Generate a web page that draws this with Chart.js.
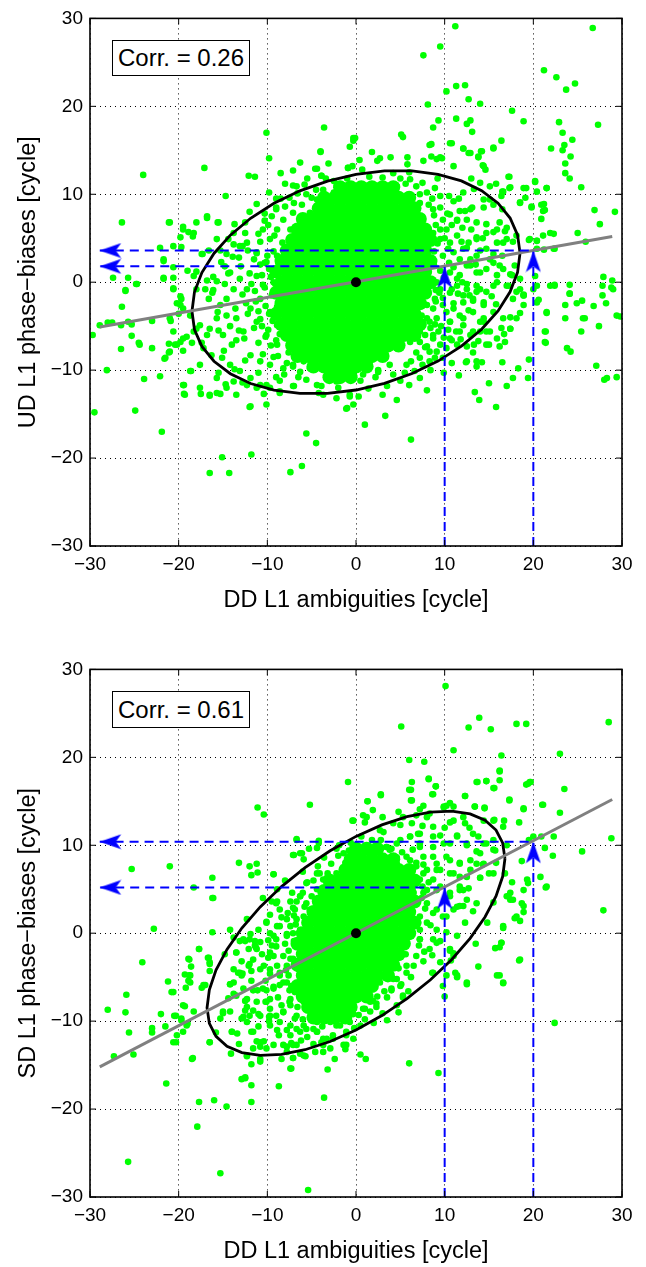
<!DOCTYPE html>
<html>
<head>
<meta charset="utf-8">
<script src="https://cdn.jsdelivr.net/npm/chart.js@4"></script>
<style>
  body{margin:0;background:#fff;width:646px;height:1267px;position:relative;overflow:hidden;font-family:"Liberation Sans",Arial,Helvetica,sans-serif}
  .panel{position:absolute;left:0;width:646px;height:616px}
  .corr{position:absolute;left:112px;width:138px;box-sizing:border-box;border:1px solid #000;background:#fff;
        font-size:24px;text-align:center;color:#000}
</style>
</head>
<body>
<div class="panel" style="top:0"><canvas id="arriba" width="646" height="616"></canvas></div>
<div class="panel" style="top:651px"><canvas id="abajo" width="646" height="616"></canvas></div>
<div class="corr" style="top:40px;height:36px;line-height:34px">Corr. = 0.26</div>
<div class="corr" style="top:691px;height:37px;line-height:35px">Corr. = 0.61</div>

<script>
// =========================
// DATOS
// =========================
const tickValues = [-30, -20, -10, 0, 10, 20, 30];
const xTitle = 'DD L1 ambiguities [cycle]';
const topYTitle = 'UD L1 phase\u2212biases [cycle]';
const botYTitle = 'SD L1 phase\u2212biases [cycle]';

// --- panel superior (UD) ---
const topPts = [
  [-24.0,12.2],[-26.4,6.8],[-17.1,13.0],[-10.1,17.0],[-9.8,14.1],[-12.1,12.1],[-11.4,12.0],[-14.7,9.8],[-3.6,17.6],[-4.0,14.9],
  [-6.3,13.6],[-7.1,12.7],[-8.5,12.4],[-4.4,12.9],[-3.9,12.1],[-7.1,11.0],[-5.8,11.1],[-12.0,8.0],[-10.3,7.8],[-9.0,8.5],
  [-21.1,6.8],[-19.5,6.3],[-18.9,5.7],[-18.4,5.2],[-19.8,5.1],[-18.0,6.8],[-16.8,7.3],[-15.6,6.8],[-19.7,4.0],[-22.1,3.9],
  [-20.6,4.1],[-21.7,2.4],[-20.6,1.7],[-19.0,1.3],[-21.7,0.5],[-20.6,0.5],[-27.4,0.5],[-25.7,0.5],[-24.8,-0.2],[-26.0,-1.0],
  [-17.3,3.2],[-16.6,3.6],[-15.3,3.6],[-18.0,1.2],[-16.8,0.2],[-15.7,0.1],[-14.4,1.0],[-13.2,2.8],[-11.2,3.3],[-10.3,2.2],
  [-14.6,3.2],[-13.8,4.3],[-12.8,4.1],[-13.7,6.6],[-12.5,5.6],[-16.1,-0.9],[-18.0,-0.8],
  [-29.7,-6.0],[-29.5,-14.8],[-28.9,-4.9],[-28.1,-10.0],[-28.0,-4.6],[-27.5,-4.6],[-26.5,-4.9],[-26.5,-7.6],[-26.4,-2.8],[-26.0,-0.9],
  [-25.7,-4.5],[-25.3,-4.8],[-25.3,-6.1],[-24.9,-14.6],[-24.7,-0.2],[-24.5,-6.9],[-24.4,-7.1],[-23.9,-11.0],[-23.0,-4.4],[-23.0,-7.5],
  [-22.1,-10.7],[-21.9,-17.0],[-21.6,-8.7],[-21.1,-8.0],[-21.1,-7.0],[-20.9,-4.4],[-20.6,-0.7],[-20.4,-7.1],[-20.2,-2.4],[-20.0,-3.6],
  [-19.8,-1.6],[-19.8,-6.8],[-19.5,-3.0],[-19.4,-11.7],[-19.4,-12.7],[-19.5,-7.8],[-19.1,-6.2],[-18.6,-10.1],[-18.5,-6.9],[-18.0,-5.3],
  [-17.5,-12.7],[-17.4,-6.9],[-16.8,-6.0],[-16.5,-12.9],[-16.5,-21.7],[-15.7,-12.6],[-15.3,-12.7],[-15.5,-10.3],[-15.1,-19.9],[-14.3,-21.7],
  [-14.7,-11.6],[-13.8,-11.3],[-12.8,-11.4],[-12.0,-14.2],[-11.8,-19.6],[-11.2,-12.0],[-10.4,-12.7],[-10.1,-11.7],[-8.1,-10.5],[-8.6,-12.6],
  [-7.4,-21.6],[-7.0,-11.8],[-7.1,-9.6],[-6.1,-20.9],[-5.6,-17.2],[-4.5,-18.3],[-3.9,-11.8],[-4.6,-8.9],[-6.3,-10.2],[-7.8,-9.2],[-9.3,-8.5],
  [11.2,29.1],[26.7,28.9],[9.5,26.8],[7.6,25.8],[21.2,24.1],[22.6,23.3],[23.7,21.9],[24.7,22.6],[10.2,21.7],[11.3,22.3],
  [12.3,22.4],[12.7,20.8],[14.0,20.3],[8.1,20.2],[17.6,19.5],[18.9,18.3],[11.3,18.6],[12.5,18.0],[12.9,18.4],[13.1,17.1],
  [9.3,18.4],[8.7,17.6],[27.3,17.9],[22.9,18.2],[23.3,17.0],[24.4,16.2],[23.5,15.6],[23.3,15.0],[24.2,14.3],[23.6,13.5],
  [24.1,11.8],[23.6,12.4],[22.0,15.2],[25.4,10.8],[26.9,8.2],[29.2,8.0],[16.4,16.1],[15.5,15.3],[14.1,14.9],[12.1,15.2],
  [12.9,14.7],[13.8,14.2],[14.3,13.3],[14.6,12.8],[10.8,15.8],[8.5,15.7],[9.1,14.0],[9.5,14.2],[7.6,13.8],[5.1,16.8],
  [5.3,16.5],[-0.3,16.1],[-0.1,16.4],[1.8,14.8],[2.7,14.1],[2.4,13.8],[3.9,14.2],[5.8,14.2],[5.8,13.4],[0.4,13.9],
  [0.7,12.8],[-0.9,13.0],[-0.4,13.2],[17.3,12.0],[17.4,10.8],[16.5,10.3],[18.5,9.1],[19.8,8.6],[20.2,11.4],[20.4,10.3],
  [19.2,10.7],[21.5,10.7],[21.2,8.9],[21.3,8.2],[20.9,7.2],[22.3,5.5],[22.4,3.8],[21.2,3.7],[20.4,4.7],[19.5,4.8],
  [25.0,5.6],[25.9,4.6],[27.5,6.6],[27.9,0.6],[28.9,0.2],[27.8,-0.4],[28.8,-0.6],[24.1,-0.3],[24.1,-1.3],[22.4,-0.3],
  [20.2,0.7],[20.4,-0.4],[18.9,-1.5],[17.9,1.9],[17.7,4.6],[16.2,6.8],[16.5,8.3],[15.5,8.8],[14.4,9.4],[13.1,8.5],
  [12.3,8.1],[11.4,7.1],[10.8,6.5],[15.5,5.7],[16.8,5.8],[16.6,4.5],[13.6,5.1],[14.7,3.8],[13.6,3.0],[12.5,3.9],
  [11.7,2.6],[12.9,1.9],[14.0,1.1],[15.5,2.2],[16.6,1.5],[17.6,0.8],[17.2,-0.4],[15.5,-0.4],[14.0,-0.8],[12.5,-0.2],
  [11.4,0.4],[18.5,0.4],[18.1,-1.1],
  [29.4,-3.8],[29.8,-3.9],[29.4,-10.8],[28.3,-10.9],[28.0,-11.1],[27.1,-9.5],[27.4,-5.0],[27.8,-1.5],[28.2,-2.4],[29.0,-0.8],
  [25.4,-5.6],[25.6,-4.1],[25.8,-4.1],[24.9,-2.4],[25.5,-2.1],[26.8,-2.7],[23.6,-4.1],[23.6,-2.6],[24.1,-1.3],[22.4,-0.4],
  [23.8,-7.5],[24.2,-7.9],[21.5,-3.5],[21.4,-5.6],[21.4,-6.9],[20.6,-2.0],[19.5,-8.8],[19.4,-10.9],[18.3,-9.8],[17.7,-10.9],
  [18.5,-3.5],[18.9,-1.4],[17.4,-4.0],[17.4,-5.3],[16.7,-5.9],[16.4,-5.2],[16.5,-9.1],[16.2,-7.3],[15.0,-7.1],[17.0,-11.8],
  [15.8,-14.2],[15.0,-11.5],[13.9,-13.4],[13.4,-12.5],[14.2,-9.1],[13.6,-9.6],[12.4,-9.1],[12.5,-7.3],[14.7,-5.6],[14.4,-4.5],
  [15.3,-1.6],[14.4,-2.6],[13.3,-7.1],[13.8,-6.7],[13.2,-5.6],[12.1,-4.9],[12.7,-3.2],[13.2,-2.1],[12.1,-1.5],[13.6,-1.1],
  [11.3,-5.6],[11.7,-3.8],[11.0,-2.4],[10.6,-4.5],[10.8,-6.6],[10.2,-7.5],[9.9,-10.3],[8.9,-8.6],[8.4,-10.0],[7.2,-10.9],
  [6.0,-11.7],[5.0,-11.2],[3.5,-11.8],[3.3,-15.2],[1.0,-16.2],[6.2,-17.9],[2.5,-10.0],[1.4,-12.1],[0.3,-13.0],[-0.3,-13.9],
  [-1.1,-14.4],[-2.0,-12.0],[8.3,-9.0],[9.1,-7.9],[8.0,-7.3],[7.2,-6.8],[8.7,-6.4],[9.3,-5.6],[8.3,-4.5],[7.4,-3.8],
  [8.0,-2.6],[8.9,-1.9],[9.5,-0.8],[10.2,-3.4],
  [6.8,-4.1],[5.3,-5.6],[6.1,-6.8],[7.2,-5.6],[8.0,-4.1],[-3.3,-10.9],[-2.2,-11.3],[-0.7,-13.0],[-2.6,-9.8],[0.8,-10.5],
  [2.5,-10.2],[3.8,-9.4],[5.7,-9.4],[7.2,-8.6],[4.6,-7.5],[3.1,-8.3],[1.6,-9.0],
  [8.3,15.6],[9.7,14.1],[8.5,14.3],[10.6,15.8],[12.1,15.2],[12.7,14.7],[13.8,14.3],[14.2,14.9],[15.5,15.2],[14.4,13.2],
  [14.0,11.3],[15.1,10.9],[17.2,12.0],[17.3,10.7],[16.6,10.3],[18.9,10.7],[20.2,11.5],[21.5,10.7],[19.1,9.6],[18.5,9.0],
  [19.8,8.5],[20.9,8.8],[21.1,8.1],[16.4,9.8],[15.1,9.4],[14.4,8.5],[12.9,8.3],[11.7,8.1],[10.6,7.7],[11.0,9.2],
  [12.1,10.2],[9.5,9.8],[8.9,10.7],[8.0,10.2],[6.8,10.9],[6.1,11.7],[5.0,11.8],[4.6,10.9],[5.5,9.6],[7.2,9.0],
  [8.7,8.3],[9.8,7.1],[11.4,7.0],[12.5,7.1],[13.6,6.8],[14.7,6.6],[15.9,6.0],[17.0,6.2],[18.1,5.3],[17.0,4.9],
  [15.9,4.5],[14.7,5.6],[13.6,4.9],[12.7,4.5],[11.4,5.3],[10.6,4.5],[9.5,4.9],[8.7,5.6],[10.2,6.0],[11.0,3.4],
  [12.1,3.8],[12.9,2.6],[14.0,3.6],[15.1,2.6],[16.2,1.9],[17.4,0.9],[15.9,0.8],[14.7,1.5],[13.6,1.1],[12.5,1.9],
  [11.7,0.8],[10.6,1.1],[9.5,1.3],[9.1,0.0],[11.4,-0.4],[12.5,-0.8],[13.6,-0.4],[14.7,-1.1],[15.9,0.0],[17.0,-0.4],
  [14.4,-2.3],[13.2,-1.9],[12.1,-2.3],[11.0,-3.0],[9.8,-2.6],[9.1,-4.1],[10.6,-4.5],[12.1,-4.1],[13.2,-3.4],[14.4,-4.1],
  [15.5,-3.4],[16.6,-4.1],[15.1,-5.6],[14.0,-5.6],[12.9,-6.0],[11.7,-5.6],[10.6,-6.4],[9.5,-7.1],[8.7,-6.0],[8.3,-7.9],
  [9.8,-8.6],[11.4,-7.1],[12.5,-9.0],[13.6,-9.0],[14.7,-7.1],[15.9,-6.4],[17.4,-5.3],[18.1,-4.1],[18.9,-2.6],[17.7,-1.9],
  [18.5,-0.8],[20.0,-0.8],[21.9,-0.4],[21.5,-3.4],[21.3,-5.6],[21.3,-6.8],[20.4,-2.3],[18.9,-1.5],[19.6,4.9],[20.4,4.7],
  [21.9,5.6],[22.3,3.8],[20.4,3.8],[21.1,5.3],
  [-4.0,14.8],[-3.1,13.5],[-3.9,12.1],[-4.6,12.9],[-0.9,13.0],[-0.3,16.4],[-0.7,15.4],
  [-6.7,10.9],[-5.6,10.0],[-6.1,8.8],[-7.1,7.9],[-8.2,7.1],[-8.9,6.0],[-9.7,4.9],[-10.3,7.0],[-9.0,8.3],[-7.4,6.0],
  [-5.2,7.9],[-4.4,9.4],[-3.7,10.5],[-2.5,10.2],[-1.4,10.9],[-5.6,6.8],[-6.7,4.9],[-7.8,3.8],[-8.9,3.0],[-10.1,2.3],
  [-11.2,3.4],[-12.3,4.5],[-13.1,4.1],[-13.8,5.6],[-14.4,4.9],[-15.7,4.9],[-15.2,2.3],[-14.2,1.1],[-13.1,0.4],[-13.8,-0.8],
  [-14.6,-1.9],[-15.3,-2.6],[-15.7,-4.1],[-16.5,-5.3],[-15.0,-6.0],[-14.0,-7.1],[-15.1,-8.6],[-14.2,-9.4],[-13.1,-10.1],[-11.9,-10.9],
  [-10.8,-11.7],[-9.7,-12.0],[-8.6,-12.4],[-7.1,-11.8],[-5.6,-11.1],[-4.4,-11.7],[-3.7,-12.8],[-2.2,-13.2],[-0.7,-12.8],[-1.0,-14.3],
  [-15.7,-10.9],[-14.6,-12.0],[-13.5,-12.8],[-16.5,-12.8],[-17.6,-12.0],[-18.7,-10.1],[-19.5,-11.7],[-19.3,-12.8],[-17.6,-9.4],[-17.2,-7.5],
  [-18.3,-5.6],[-19.5,-6.4],[-20.2,-7.1],[-21.0,-7.9],[-21.5,-8.6],[-21.0,-4.1],[-19.8,-2.6],[-20.6,-0.8],[-21.7,0.4],[-21.7,2.6],
  [-21.0,6.8],[-19.5,6.0],[-18.3,5.6],[-16.8,7.5],[-15.5,6.8],[-17.4,3.2],[-16.1,0.6],[-17.0,-0.8],[-16.6,-1.9],[-18.3,0.7],
  [-20.6,-5.6],[-11.9,-3.0],[-10.8,-1.9],[-9.7,-3.4],[-11.2,-4.5],[-12.7,-5.6],[-13.5,-4.1],[-10.1,-6.0],[-8.9,-7.1],[-11.9,-8.3],
  [-10.8,-9.0],[-9.7,-9.4],[-8.2,-9.8],[-7.1,-9.4],[-5.9,-9.0],[-12.3,-0.8],[-11.2,0.7],[-9.3,0.0],[-8.2,-1.1],[-7.8,-2.6],
  [-8.9,-4.9],[-7.4,-5.6],[-6.3,-7.1],[-5.2,-6.0],[-10.1,-13.9],[-11.9,-14.1],[-12.3,-11.7],[-17.6,-4.9],[-18.7,-3.8],[-19.7,-1.9]
];
// puntos del borde del nucleo
const topFringe = [
  [-8.5,9.5],[-9.5,7.5],[-10.5,6.0],[-9.2,5.3],[-8.3,4.5],[-10.8,4.6],[-11.5,2.6],[-9.8,1.5],[-10.6,0.8],[-11.8,-0.2],
  [-10.3,-0.6],[-9.5,-1.5],[-12.8,-1.4],[-11.3,-2.2],[-10.2,-2.7],[-12.2,-3.6],[-10.8,-4.2],[-9.4,-4.4],[-11.5,-5.2],[-9.9,-5.4],
  [-8.6,-5.9],[-12.6,-6.4],[-11.0,-6.9],[-9.6,-7.2],[-10.5,-8.2],[-8.8,-8.4],[-7.6,-8.0],[-12.5,-8.9],[-13.5,-6.6],[-14.2,-5.0],
  [-13.6,-3.0],[-14.8,-0.2],[-13.0,1.8],[-12.2,3.6],[-11.0,5.5],[-12.5,6.8],[-11.2,8.9],[-9.8,10.2],[-8.0,11.2],[-7.5,9.6],
  [-6.6,10.1],[-9.0,9.5],[-13.9,2.9],[-14.8,1.8],[-16.2,-1.2],[-15.6,-3.4],[-14.6,-3.8],[-13.2,-5.5],[-15.5,-5.5],[-14.9,-7.8],
  [-16.3,-8.3],[-13.7,-9.9],[-11.0,-10.3],[-9.0,-10.8],[-6.5,-10.8],[-5.2,-9.8],[-8.6,-11.2],[-10.5,-0.3],[-8.9,-2.8],[-9.3,3.5],
  [-8.7,2.0],[-9.1,-0.2],
  [-10.0,3.0],[-9.8,-3.6],[-10.2,-6.2],[-9.0,-6.6],[-11.4,-1.0],[-12.0,1.0],[-10.8,2.0],[-9.6,0.6],[-11.0,-3.3],[-12.4,-2.4],
  [-9.9,6.5],[-8.0,8.6],[-7.0,9.0],[-10.6,-5.0],
  [8.6,9.5],[9.5,8.5],[10.5,9.8],[9.0,6.5],[10.0,5.0],[8.8,3.5],[9.8,3.0],[10.5,2.2],[8.8,1.9],[9.9,0.5],
  [10.8,-0.8],[9.0,-0.9],[9.8,-1.8],[10.6,-1.2],[11.5,-1.3],[8.7,-3.0],[9.6,-5.0],[10.4,-5.4],[11.8,-6.5],[7.8,-6.0],
  [6.8,-8.0],[7.5,-9.4],[5.5,-10.3],[4.2,-10.5],[6.6,-10.1],[12.0,0.0],[12.8,-1.5],[13.5,2.0],[11.0,1.7],[11.9,4.6],
  [13.0,6.0],[12.0,6.2],[10.3,7.8],[11.6,9.5],[13.3,10.6],[9.2,11.8],[7.5,11.3],[6.0,12.5],[4.2,12.4],[3.0,11.9],
  [1.5,12.0],[-1.0,11.8],[-2.5,11.5],[-4.5,10.5],[-5.5,11.8],[2.2,-10.8],[0.5,-11.2],[-1.6,-10.6],[-3.0,-10.2],[-4.2,-12.6],
  [3.0,-12.8],[4.6,-13.4],[8.0,-12.3],[10.8,-9.2],[11.6,-10.6],[13.2,-8.0],[14.0,-4.5],[15.8,-2.5],[16.8,-6.8],[15.5,3.2],
  [14.3,5.0],[16.5,3.0],[13.0,11.8],[15.8,11.2],[11.0,13.2],
  [9.2,4.4],[10.4,3.8],[9.4,-1.2],[9.0,-2.2],[8.9,-4.8],[8.4,-5.2],[9.9,-6.3],[7.8,-7.4],[6.2,-9.0],[8.8,7.6],
  [9.5,6.0],[8.2,8.8],[7.2,10.0],[5.6,11.2],[3.2,11.0],[-3.4,11.8],[-5.0,9.6]
];
// nucleo denso (filas y, valores x)
const topCore = [
  [10.8, [-1.8,-0.6,0.6,1.8,3,4.2]],
  [9.6,  [-3.6,-2.4,-1.2,0,1.2,2.4,3.6,4.8,6]],
  [8.4,  [-4.2,-3,-1.8,-0.6,0.6,1.8,3,4.2,5.4,6.6]],
  [7.2,  [-6,-4.8,-3.6,-2.4,-1.2,0,1.2,2.4,3.6,4.8,6,7.2]],
  [6.0,  [-6.6,-5.4,-4.2,-3,-1.8,-0.6,0.6,1.8,3,4.2,5.4,6.6,7.8]],
  [4.8,  [-7.2,-6,-4.8,-3.6,-2.4,-1.2,0,1.2,2.4,3.6,4.8,6,7.2,8.4]],
  [3.6,  [-7.8,-6.6,-5.4,-4.2,-3,-1.8,-0.6,0.6,1.8,3,4.2,5.4,6.6,7.8]],
  [2.4,  [-8.4,-7.2,-6,-4.8,-3.6,-2.4,-1.2,0,1.2,2.4,3.6,4.8,6,7.2,8.4]],
  [1.2,  [-9,-7.8,-6.6,-5.4,-4.2,-3,-1.8,-0.6,0.6,1.8,3,4.2,5.4,6.6,7.8]],
  [0,    [-8.4,-7.2,-6,-4.8,-3.6,-2.4,-1.2,0,1.2,2.4,3.6,4.8,6,7.2,8.4]],
  [-1.2, [-9,-7.8,-6.6,-5.4,-4.2,-3,-1.8,-0.6,0.6,1.8,3,4.2,5.4,6.6,7.8]],
  [-2.4, [-8.4,-7.2,-6,-4.8,-3.6,-2.4,-1.2,0,1.2,2.4,3.6,4.8,6,7.2]],
  [-3.6, [-9,-7.8,-6.6,-5.4,-4.2,-3,-1.8,-0.6,0.6,1.8,3,4.2,5.4,6.6]],
  [-4.8, [-8.4,-7.2,-6,-4.8,-3.6,-2.4,-1.2,0,1.2,2.4,3.6,4.8,6,7.2]],
  [-6.0, [-7.8,-6.6,-5.4,-4.2,-3,-1.8,-0.6,0.6,1.8,3,4.2,5.4,6.6]],
  [-7.2, [-7.2,-6,-4.8,-3.6,-2.4,-1.2,0,1.2,2.4,3.6,4.8]],
  [-8.4, [-6.6,-5.4,-4.2,-3,-1.8,-0.6,0.6,1.8,3]],
  [-9.6, [-4.8,-3.6,-2.4,-1.2,0,1.2]],
  [-10.8,[-3,-1.8,-0.6]]
];
const topEllipse = [
  [18.5,3.3],[18.22,5.38],[17.38,7.3],[16.02,8.99],[14.17,10.41],[11.89,11.52],[9.25,12.27],[6.33,12.65],[3.21,12.65],[0,12.26],
  [-3.21,11.5],[-6.33,10.39],[-9.25,8.97],[-11.89,7.27],[-14.17,5.35],[-16.02,3.27],[-17.38,1.09],[-18.22,-1.12],[-18.5,-3.3],
  [-18.22,-5.38],[-17.38,-7.3],[-16.02,-8.99],[-14.17,-10.41],[-11.89,-11.52],[-9.25,-12.27],[-6.33,-12.65],[-3.21,-12.65],[0,-12.26],
  [3.21,-11.5],[6.33,-10.39],[9.25,-8.97],[11.89,-7.27],[14.17,-5.35],[16.02,-3.27],[17.38,-1.09],[18.22,1.12],[18.5,3.3]
];
const topFit = [[-28.9,-5.1],[28.9,5.2]];
const topMean = [[0,0]];
const topGuides = [
  [[10,-30],[10,1.8],[-28.9,1.8]],
  [[20,-30],[20,3.6],[-28.9,3.6]]
];
const topArrowUp = [[10,1.8],[20,3.6]];
const topArrowLeft = [[-28.9,1.8],[-28.9,3.6]];

// --- panel inferior (SD) ---
const botPts = [
  [-5.2,14.6],[-11.1,14.3],[-10.4,13.5],[-25.3,7.3],[-21.0,7.6],[-18.3,5.2],[-22.8,0.5],[-16.2,6.3],[-16.2,4.0],[-16.2,0.1],
  [-13.2,8.0],[-12.0,7.6],[-11.2,7.9],[-9.3,6.7],[-6.7,10.7],[-7.1,8.9],[-6.1,9.1],[-5.9,8.4],[-4.2,10.5],[-4.4,9.7],
  [-6.7,3.6],[-6.9,2.7],[-8.9,5.0],[-8.9,3.6],[-8.6,2.7],[-10.1,1.3],[-8.9,0.8],[-7.4,0.8],[-5.9,1.9],[-6.3,4.2],
  [-5.6,5.7],[-4.1,6.8],[-4.4,5.0],[-3.7,2.7],[-3.1,0.4],[-4.1,-0.3],[-6.3,-0.3],[-7.8,-0.1],[-9.3,-0.3],[-11.9,-0.1],
  [-12.7,-0.7],[-11.0,0.4],
  [-28.0,-8.7],[-27.3,-14.0],[-25.9,-7.0],[-26.0,-9.0],[-25.6,-11.3],[-25.7,-26.0],[-25.1,-13.8],[-24.1,-3.3],[-23.0,-10.8],[-23.0,-11.3],
  [-22.0,-9.2],[-21.5,-10.6],[-21.4,-17.1],[-21.2,-5.5],[-20.8,-6.7],[-20.5,-9.4],[-20.2,-11.6],[-20.3,-12.4],[-19.7,-9.7],[-19.7,-9.9],
  [-19.3,-8.3],[-19.0,-10.3],[-19.2,-6.2],[-18.9,-5.4],[-18.8,-4.8],[-18.6,-3.8],[-18.8,-3.0],[-18.5,-14.3],[-17.9,-22.0],[-17.7,-19.2],
  [-17.7,-1.8],[-17.4,-6.2],[-16.6,-2.8],[-16.5,-3.5],[-16.5,-4.3],[-16.5,-12.4],[-16.0,-19.0],[-15.3,-27.3],[-15.0,-9.1],[-14.6,-19.7],
  [-14.2,-5.8],[-14.0,-11.2],[-14.1,-13.7],[-13.8,-6.9],[-13.5,-2.2],[-13.3,-4.5],[-12.8,-4.6],[-12.5,-7.7],[-12.3,-8.4],[-12.7,-9.5],
  [-12.3,-10.1],[-12.9,-16.6],[-12.5,-16.4],[-11.8,-17.3],[-11.8,-19.2],[-12.1,-3.7],[-11.8,-4.3],[-11.8,-5.4],[-11.0,-9.2],[-11.6,-11.2],
  [-11.2,-12.3],[-10.8,-12.9],[-10.4,-12.3],[-12.3,-14.0],[-11.8,-14.9],[-10.8,-14.3],[-11.4,-0.9],[-11.3,-1.6],[-11.1,-6.5],[-10.2,-7.8],
  [-9.7,-8.6],[-9.8,-9.5],[-8.6,-4.8],[-8.7,-11.6],[-8.4,-8.2],[-7.4,-7.5],[-7.5,-7.8],[-8.2,-9.0],[-8.7,-17.4],[-7.3,-12.5],
  [-7.1,-12.7],[-7.4,-15.4],[-7.1,-14.2],[-5.7,-14.0],[-6.3,-13.7],[-7.8,-12.9],[-8.4,-14.3],[-6.9,-9.7],[-7.8,-11.0],[-6.3,-11.2],
  [-5.9,-10.5],[-5.1,-9.3],[-5.5,-8.5],[-5.4,-29.2],[-3.6,-18.7],[-4.4,-11.2],[-3.9,-12.4],[-3.7,-13.5],[-4.6,-13.5],[-4.8,-10.9],
  [-4.0,-8.6],[-3.1,-7.5],[-13.8,-0.5],[-13.1,-0.9],[-12.1,-1.8],[-9.5,-1.4],[-9.9,-2.8],[-10.4,-3.7],[-9.7,-4.6],[-9.3,-6.1],
  [-10.1,-6.5],[-8.2,-5.6],[-8.9,-3.7],[-7.4,-2.9],[-7.6,-4.8],[-6.5,-4.1],[-6.3,-5.6],[-6.9,-6.7],[-5.9,-7.5],[-4.8,-6.2],[-4.2,-4.5],
  [10.1,28.1],[5.1,23.5],[13.9,24.5],[12.7,23.4],[15.2,23.2],[18.1,23.8],[19.2,23.8],[28.5,24.0],[11.0,20.8],[16.4,20.2],
  [16.2,18.4],[6.0,19.7],[7.7,19.5],[23.0,20.4],[-0.9,17.2],[6.3,17.2],[6.0,16.3],[8.2,17.6],[9.0,16.7],[8.7,15.8],
  [7.2,14.1],[13.7,17.2],[14.7,17.3],[15.5,16.5],[19.4,17.0],[19.7,17.2],[23.5,16.4],[2.8,15.8],[1.3,15.0],[6.2,15.1],
  [12.3,15.6],[13.4,14.4],[14.5,14.2],[17.3,15.1],[16.2,17.4],[10.6,14.8],[9.9,14.4],[18.9,14.1],[18.4,12.6],[21.0,14.6],
  [23.0,13.7],[15.6,12.9],[16.7,12.8],[15.7,9.4],[17.0,10.0],[18.7,8.2],[20.0,11.0],[19.5,10.6],[20.9,11.0],[22.3,11.0],
  [21.3,9.7],[22.2,8.8],[25.5,9.3],[28.8,10.8],[27.9,2.6],[21.4,5.2],[19.4,5.7],[18.7,3.4],[18.9,2.4],[17.9,1.7],
  [18.5,1.4],[16.6,0.6],[17.2,4.2],[17.4,3.8],[17.6,5.8],[16.8,6.8],[15.0,6.8],[14.3,7.8],[14.0,6.3],[13.2,2.5],
  [12.3,1.2],[12.5,3.8],[11.7,3.1],[12.1,4.9],[13.6,7.9],
  [-0.3,12.8],[1.2,13.2],[2.7,11.7],[4.2,12.5],[5.3,13.2],[6.8,13.4],[8.3,13.6],[9.9,14.3],[11.0,12.8],[12.1,13.2],
  [6.1,11.0],[7.2,11.3],[8.7,11.0],[9.9,10.2],[11.4,11.0],[12.5,10.2],[4.6,10.2],[3.5,9.8],[2.0,9.1],[0.8,8.3],
  [2.7,7.2],[4.2,8.0],[5.7,8.7],[7.2,9.8],[8.7,8.7],[10.2,8.7],[11.7,8.0],[12.9,8.3],[14.0,9.1],[14.7,10.2],
  [15.5,10.6],[0.1,6.4],[1.6,6.4],[3.1,5.7],[4.6,6.4],[6.1,6.8],[7.6,6.8],[9.1,7.2],[10.6,6.8],[11.7,6.4],
  [9.5,5.3],[8.0,4.9],[6.5,4.6],[5.0,4.2],[3.5,3.8],[10.6,4.2],[11.4,3.0],[10.2,1.9],[9.1,2.7],[8.0,3.4],
  [7.2,1.9],[5.7,2.7],[11.7,4.9],
  [22.4,-10.2],[18.4,-3.1],[16.2,-4.8],[16.6,-5.7],[15.7,-1.7],[16.4,-1.1],[12.5,-5.8],[11.4,-5.0],[11.2,-4.5],[10.7,-3.1],
  [10.6,-2.0],[11.0,-2.3],[10.0,-7.2],[9.3,-15.9],[6.0,-14.8],[1.1,-14.3],[8.6,-4.5],[7.7,-2.1],[6.8,-2.6],[7.2,-0.7],
  [8.7,-0.7],[9.5,-0.9],[6.5,-3.7],[5.7,-4.5],[5.3,-7.3],[4.8,-9.0],[3.5,-9.9],[4.0,-6.3],[5.0,-6.0],[4.2,-5.2],
  [3.5,-4.1],[2.7,-5.6],[1.9,-7.7],[2.3,-8.0],[1.6,-8.9],[0.8,-8.6],[-0.3,-9.2],[-1.1,-11.2],[-1.1,-12.7],[-2.6,-12.0],
  [-2.9,-10.1],[-1.8,-10.5],[-0.3,-12.0],[-3.7,-12.0],
  [-0.4,12.8],[-11.8,6.6],[-11.1,6.9],[-9.3,6.7],[-16.1,4.0],[-6.7,10.6],[-7.0,8.9],[-6.3,9.1],[-4.2,10.3],[-2.2,9.6],
  [-1.4,9.1],[-1.2,8.0],[-4.4,6.8],[-3.7,6.1],[-5.5,5.8],[-2.6,6.1],[-2.2,6.8],[-1.4,6.4],[-0.5,7.0],
  [-9.5,3.6],[-9.0,3.4],[-9.7,2.1],[-7.4,3.6],[-7.1,2.9],[-6.3,4.2],[-5.6,3.4],[-5.2,2.7],[-6.7,1.6],[-7.8,1.6],
  [-8.6,0.8],[-9.0,-0.7],[-7.8,-0.3],[-7.1,0.0],[-6.3,0.4],[-5.9,-0.7],[-9.7,0.0],[-10.1,1.2],[-12.3,1.6],[-12.0,-0.7],
  [-12.5,-0.9],[-13.5,-2.2],[-11.4,-1.4],[-11.2,-1.8],[-9.7,-2.2],[-9.3,-2.6],[-9.0,-1.5],[-8.2,-2.6],[-7.1,-2.9],[-7.8,-3.7],
  [-8.6,-4.5],[-9.7,-4.1],[-10.8,-4.1],[-12.0,-3.5],[-13.1,-4.5],[-12.9,-4.8],[-13.8,-5.6],[-14.2,-5.8],[-12.7,-6.3],[-11.6,-6.5],
  [-10.5,-6.3],[-9.3,-6.3],[-8.6,-5.9],[-7.8,-5.6],[-9.7,-7.5],[-10.1,-7.8],[-11.2,-7.8],[-12.3,-7.5],[-13.5,-7.1],[-12.5,-8.8],
  [-12.0,-9.4],[-12.9,-9.7],[-14.2,-8.9],[-15.0,-8.9],[-15.3,-9.7],[-10.8,-9.4],[-9.7,-9.4],[-9.0,-9.4],[-8.2,-8.9],[-7.4,-8.2],
  [-6.7,-9.4],[-5.9,-7.8],[-5.2,-7.1],[-9.7,-10.5],[-8.6,-10.1],[-7.4,-10.5],[-6.7,-10.9],[-5.6,-10.9],[-4.8,-9.4],[-14.0,-11.2],
  [-11.8,-11.2],[-10.8,-12.4],[-11.6,-13.1],[-12.3,-13.9],[-10.8,-14.6],[-10.1,-13.1],[-9.3,-12.7],[-8.2,-12.7],[-7.4,-11.6],[-6.7,-12.7],
  [-5.9,-13.9],[-7.1,-14.2],[-7.8,-13.5],[-4.4,-11.2],[-3.3,-12.0],[-2.9,-13.1],[-3.7,-12.7],[-2.6,-11.6],[-1.4,-12.7],[-1.1,-11.6],
  [-0.7,-10.1],[-2.2,-10.5],[-4.4,-10.1],[-16.5,-12.4],[-18.4,-14.2],[-20.3,-9.4],[-20.6,-12.4],[-19.5,-11.2],[-19.1,-10.5],[-19.5,-8.2],
  [-16.5,-3.3],[-17.2,-5.9],[-18.7,-5.6],[-18.9,-2.9],[-17.7,-1.8],[-18.7,-4.8],[-20.6,-6.7],[-13.8,-4.1],[-14.2,0.4],[-14.8,-2.4],
  [-16.7,-2.8],[-17.0,-5.9],[-18.3,-8.9],[-19.3,-4.7],[-12.5,-16.5],[-7.3,-15.4],
  [16.2,18.5],[8.2,17.5],[9.0,16.7],[6.2,16.3],[6.3,15.1],[8.6,15.8],[7.6,14.5],[2.8,15.7],[1.3,15.0],[13.6,17.2],
  [14.7,17.3],[15.6,16.5],[17.3,15.2],[14.5,14.3],[13.4,14.4],[12.3,15.6],[10.2,14.5],[11.0,14.4],[18.9,14.2],[19.6,17.2],
  [19.2,16.9],[21.1,14.6],
  [0.8,13.4],[1.0,12.6],[3.1,11.5],[5.0,12.3],[6.3,12.5],[7.0,11.3],[8.0,13.2],[8.7,12.1],[9.5,11.1],[10.6,12.6],
  [11.4,11.1],[12.3,12.5],[13.2,11.3],[14.4,12.8],[15.5,12.8],[16.6,12.1],[12.5,10.0],[14.4,10.2],[15.5,9.5],[13.6,9.3],
  [10.6,10.2],[8.7,9.8],[7.2,10.2],[6.1,11.0],[5.0,10.6],[3.8,9.5],[2.3,9.8],[1.6,8.7],[3.1,8.3],[4.6,7.9],
  [6.1,8.3],[7.6,8.7],[9.1,7.9],[10.6,8.3],[11.7,7.9],[12.9,7.2],[14.4,7.9],[15.5,6.8],[14.0,6.3],[12.5,6.4],
  [11.0,6.8],[9.5,7.2],[8.0,7.2],[6.8,7.6],[5.7,6.8],[4.2,6.1],[2.7,6.4],[1.6,6.8],[8.7,6.1],[7.2,6.1],
  [5.7,4.9],[7.6,4.6],[9.1,4.9],[10.6,4.6],[11.7,5.3],[12.7,5.1],[13.6,3.4],[12.1,3.1],[11.0,2.7],[9.8,1.9],
  [8.7,2.3],[8.0,1.2],[7.2,0.4],[9.1,0.4],[10.2,0.1],[11.4,-0.3],[10.6,-1.8],[11.0,-2.6],[9.1,-1.1],[8.3,-1.8],
  [9.5,-3.3],[8.7,-4.5],[10.2,-4.8],[11.4,-4.8],[12.5,-5.6],[7.2,-0.7],[5.7,-3.7],[4.6,-5.2],[5.1,-5.8],[4.0,-6.5],
  [3.5,-7.3],[1.6,-7.8],[2.3,-8.4],[1.0,-8.6],[0.3,-9.3],[5.3,-7.1],[16.6,0.8],[18.1,1.9],[18.9,3.1],[17.7,3.8],
  [17.0,4.2],[18.9,4.9],[19.3,6.1],[20.8,6.4],[21.5,5.3],[17.4,4.6],[16.2,-1.6],[16.4,-1.1],[15.9,-4.8],[16.6,-5.6],[18.5,-3.0]
];
const botFringe = [
  [-7.5,-6.5],[-8.8,-7.3],[-8.0,-1.2],[-7.0,-0.9],[-6.8,1.0],[-7.7,2.3],[-5.8,3.0],[-5.0,4.2],[-4.8,6.0],[-3.2,6.8],
  [-2.8,7.9],[-3.6,8.6],[-1.9,10.0],[-0.6,10.3],[0.6,11.0],[1.8,10.6],[2.8,10.6],[4.0,9.6],[5.2,9.2],[6.4,9.5],
  [6.8,8.0],[7.6,7.8],[8.2,5.8],[7.5,5.3],[7.8,2.8],[8.4,0.9],[8.6,-2.5],[7.6,-3.2],[6.2,-5.0],[5.9,-6.6],
  [4.6,-8.2],[3.0,-9.1],[2.0,-10.2],[0.5,-10.5],[-1.2,-13.2],[-2.4,-14.3],[-4.8,-12.6],[-6.2,-12.2],[-5.5,-11.8],[-8.9,-11.0],
  [-9.8,-10.0],[-11.0,-10.6],[-11.6,-8.8],[-10.2,-5.4],[-11.6,-3.0],[-10.6,-2.4],[-9.9,-0.8],[-8.4,1.8],[-7.2,4.6],[-6.0,7.0],
  [-5.3,9.6],[-8.0,6.0],[-10.5,4.0],[-10.8,-1.0],[-12.9,-3.2],[-14.4,-7.4],[-13.4,-11.4],[-15.8,-11.3],[-13.2,-12.6],[-3.2,-15.5],
  [0.5,-13.8],[9.8,-6.0],[13.8,-3.8],[13.5,-1.2],[14.8,1.2],[15.5,3.5],[15.8,8.0],[13.8,11.0],[12.8,12.0],[10.0,12.0],
  [7.5,12.2],[4.8,13.8],[3.0,13.2],[1.9,14.0],
  [-3.8,-10.6],[-6.0,-9.8],[-6.6,-8.4],[-7.3,-6.0],[-7.9,-4.2],[-7.6,-2.0],[-7.0,2.0],[-6.0,4.6],[-4.3,7.6],[-2.0,8.8],
  [-0.8,9.4],[3.4,9.8],[4.6,8.6],[6.4,7.2],[7.4,4.0],[7.0,1.2],[7.1,-1.4],[5.6,-2.4],[4.8,-4.0],[3.2,-6.6],
  [2.4,-7.2],[1.0,-9.8],[-0.2,-10.8]
];
const botCore = [
  [9.6,  [0,1.2,2.4]],
  [8.4,  [-0.6,0.6,1.8,3,4.2]],
  [7.2,  [-1.2,0,1.2,2.4,3.6,4.8,6]],
  [6.0,  [-3,-1.8,-0.6,0.6,1.8,3,4.2,5.4,6.6]],
  [4.8,  [-3.6,-2.4,-1.2,0,1.2,2.4,3.6,4.8,6]],
  [3.6,  [-4.2,-3,-1.8,-0.6,0.6,1.8,3,4.2,5.4,6.6]],
  [2.4,  [-4.8,-3.6,-2.4,-1.2,0,1.2,2.4,3.6,4.8,6]],
  [1.2,  [-5.4,-4.2,-3,-1.8,-0.6,0.6,1.8,3,4.2,5.4,6.6]],
  [0,    [-6,-4.8,-3.6,-2.4,-1.2,0,1.2,2.4,3.6,4.8,6]],
  [-1.2, [-6.6,-5.4,-4.2,-3,-1.8,-0.6,0.6,1.8,3,4.2,5.4]],
  [-2.4, [-6,-4.8,-3.6,-2.4,-1.2,0,1.2,2.4,3.6,4.8]],
  [-3.6, [-6.6,-5.4,-4.2,-3,-1.8,-0.6,0.6,1.8,3,4.2]],
  [-4.8, [-6,-4.8,-3.6,-2.4,-1.2,0,1.2,2.4,3.6]],
  [-6.0, [-6.6,-5.4,-4.2,-3,-1.8,-0.6,0.6,1.8]],
  [-7.2, [-6,-4.8,-3.6,-2.4,-1.2,0,1.2]],
  [-8.4, [-5.4,-4.2,-3,-1.8,-0.6]],
  [-9.6, [-4.8,-3.6,-2.4,-1.2]]
];
const botEllipse = [
  [16.8,8.48],[16.54,10.26],[15.79,11.73],[14.55,12.85],[12.87,13.57],[10.8,13.89],[8.4,13.78],[5.75,13.25],[2.92,12.32],[0,11.01],
  [-2.92,9.37],[-5.75,7.45],[-8.4,5.3],[-10.8,2.99],[-12.87,0.59],[-14.55,-1.84],[-15.79,-4.2],[-16.54,-6.44],[-16.8,-8.48],
  [-16.54,-10.26],[-15.79,-11.73],[-14.55,-12.85],[-12.87,-13.57],[-10.8,-13.89],[-8.4,-13.78],[-5.75,-13.25],[-2.92,-12.32],[0,-11.01],
  [2.92,-9.37],[5.75,-7.45],[8.4,-5.3],[10.8,-2.99],[12.87,-0.59],[14.55,1.84],[15.79,4.2],[16.54,6.44],[16.8,8.48]
];
const botFit = [[-28.9,-15.2],[28.9,15.2]];
const botMean = [[0,0]];
const botGuides = [
  [[10,-30],[10,5.2],[-28.9,5.2]],
  [[20,-30],[20,10.4],[-28.9,10.4]]
];
const botArrowUp = [[10,5.2],[20,10.4]];
const botArrowLeft = [[-28.9,5.2],[-28.9,10.4]];

// =========================
// UTILIDADES
// =========================
const FONT = '"Liberation Sans", Arial, Helvetica, sans-serif';

function fmt(v){ return String(v).replace('-', '\u2212'); }

function rowsToPts(rows){
  return rows.flatMap(([y, xs]) => xs.map(x => [x, y]));
}

// punta de flecha azul (la punta queda en el centro del lienzo)
function crearFlecha(){
  const c = document.createElement('canvas');
  c.width = 16; c.height = 44;
  const g = c.getContext('2d');
  g.fillStyle = '#0000ff';
  g.beginPath();
  g.moveTo(8, 22);
  g.lineTo(15.5, 43.5);
  g.lineTo(8, 38);
  g.lineTo(0.5, 43.5);
  g.closePath();
  g.fill();
  return c;
}
const flecha = crearFlecha();

// marco negro y marcas interiores en los 4 lados
const cajaPlugin = {
  id: 'caja',
  afterDraw(chart){
    const {ctx, chartArea: a, scales: {x, y}} = chart;
    ctx.save();
    ctx.strokeStyle = '#000';
    ctx.lineWidth = 1;
    ctx.beginPath();
    tickValues.forEach(v => {
      const px = x.getPixelForValue(v), py = y.getPixelForValue(v);
      ctx.moveTo(px, a.bottom); ctx.lineTo(px, a.bottom - 6);
      ctx.moveTo(px, a.top); ctx.lineTo(px, a.top + 6);
      ctx.moveTo(a.left, py); ctx.lineTo(a.left + 6, py);
      ctx.moveTo(a.right, py); ctx.lineTo(a.right - 6, py);
    });
    ctx.stroke();
    ctx.lineWidth = 1.6;
    ctx.strokeRect(a.left, a.top, a.right - a.left, a.bottom - a.top);
    ctx.restore();
  }
};

function eje(titulo, esX){
  return {
    type: 'linear', min: -30, max: 30,
    afterBuildTicks: s => { s.ticks = tickValues.map(value => ({value})); },
    afterFit: s => { if (esX) s.height = 70; else s.width = 90; },
    ticks: {callback: v => fmt(v), color: '#000', font: {family: FONT, size: 19}, padding: 7, maxRotation: 0, autoSkip: false},
    grid: {color: '#000', lineWidth: 1, drawTicks: false},
    border: {display: false, dash: [1, 4]},
    title: {display: true, text: titulo, color: '#000', font: {family: FONT, size: 23.5},
            padding: esX ? {top: 0, bottom: 1} : {top: 14, bottom: 0}}
  };
}

// =========================
// GRAFICAS
// =========================
function crearPanel(id, d){
  const verde = {pointBackgroundColor: '#00ff00', pointBorderWidth: 0};
  const datasets = [
    {data: d.mean, pointRadius: 5, pointBackgroundColor: '#000', pointBorderWidth: 0, order: 0},
    {data: d.up, pointStyle: flecha, pointRadius: 10, pointRotation: 0, order: 1},
    {data: d.left, pointStyle: flecha, pointRadius: 10, pointRotation: -90, order: 1},
    ...d.guides.map(g => ({data: g, showLine: true, borderColor: '#0000ff', borderWidth: 2, borderDash: [9, 6], pointRadius: 0, order: 2})),
    {data: d.fit, showLine: true, borderColor: '#808080', borderWidth: 3, pointRadius: 0, order: 3},
    {data: d.ellipse, showLine: true, borderColor: '#000', borderWidth: 2.8, pointRadius: 0, order: 4},
    {data: rowsToPts(d.core), pointRadius: 7, ...verde, order: 5},
    {data: d.fringe, pointRadius: 3.3, ...verde, order: 6},
    {data: d.pts, pointRadius: 3.3, ...verde, order: 6}
  ];
  new Chart(document.getElementById(id), {
    type: 'scatter',
    data: {datasets},
    options: {
      responsive: false, animation: false, events: [],
      layout: {padding: {top: 14, right: 24, left: 0, bottom: 0}},
      plugins: {legend: {display: false}, tooltip: {enabled: false}},
      scales: {x: eje(xTitle, true), y: eje(d.yTitle, false)}
    },
    plugins: [cajaPlugin]
  });
}

crearPanel('arriba', {pts: topPts, fringe: topFringe, core: topCore, ellipse: topEllipse, fit: topFit, mean: topMean,
  guides: topGuides, up: topArrowUp, left: topArrowLeft, yTitle: topYTitle});
crearPanel('abajo', {pts: botPts, fringe: botFringe, core: botCore, ellipse: botEllipse, fit: botFit, mean: botMean,
  guides: botGuides, up: botArrowUp, left: botArrowLeft, yTitle: botYTitle});
</script>
</body>
</html>
